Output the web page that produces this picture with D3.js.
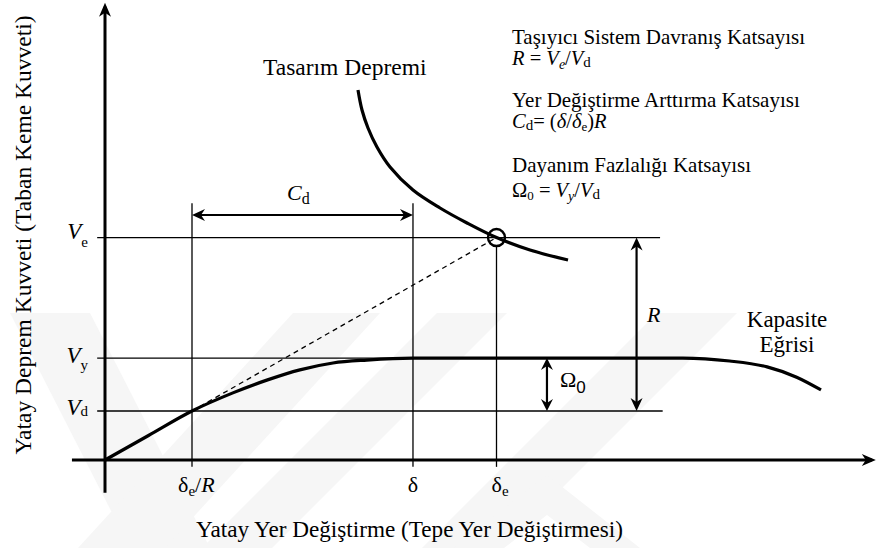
<!DOCTYPE html>
<html><head><meta charset="utf-8">
<script src="https://cdn.jsdelivr.net/npm/d3@7"></script>
<style>
html,body{margin:0;padding:0;background:#fff;}
svg{display:block;}
text{font-family:"Liberation Serif","Times New Roman",serif;fill:#000;}
</style>
</head><body>
<svg id="chart" width="877" height="548"></svg>
<script>
// Force levels, normalised to the design force V_d
const forceNames = ["Ve", "Vy", "Vd"];
const forceLevels = [4.54, 2.08, 1.0];
// Displacement marks, normalised to δe/R
const dispNames = ["δe/R", "δ", "δe"];
const dispLevels = [1.0, 3.54, 4.5];
// Capacity (pushover) curve
const capX = [0, 0.5, 1.0, 1.47, 1.86, 2.24, 2.62, 3.01, 3.54, 6.64, 7.18, 7.61, 7.95, 8.23];
const capY = [0, 0.5, 1.0, 1.37, 1.63, 1.84, 1.98, 2.04, 2.08, 2.08, 2.02, 1.90, 1.69, 1.43];
// Design earthquake demand curve
const demX = [2.908, 2.954, 3.023, 3.126, 3.276, 3.54, 3.851, 4.161, 4.5, 4.885, 5.322];
const demY = [7.551, 7.143, 6.776, 6.388, 5.980, 5.51, 5.143, 4.837, 4.54, 4.286, 4.082];

const svg = d3.select("#chart");
const x = d3.scaleLinear().domain([0, 1]).range([105, 192]);
const y = d3.scaleLinear().domain([0, 1]).range([460, 411]);

const [Ve, Vy, Vd] = forceLevels;
const [dR, dY, dE] = dispLevels;

// faint background watermark
const wm = svg.append("g").attr("fill", "#f6f6f6");
[
  [[10,313],[90,313],[210,548],[130,548]],
  [[293,313],[380,313],[165,548],[78,548]],
  [[437,313],[507,313],[272,548],[202,548]],
  [[657,313],[737,313],[502,548],[422,548]],
  [[547,475],[640,548],[590,548],[547,515],[504,548],[454,548]]
].forEach(p => wm.append("path").attr("d", d3.line()(p) + "Z"));

// arrowhead drawn at (px,py) pointing along angle (radians)
function arrowHead(px, py, ang, len = 13, half = 6, notch = 4) {
  const pts = [[0,0],[-len,-half],[-len+notch,0],[-len,half]];
  const c = Math.cos(ang), s = Math.sin(ang);
  const tp = pts.map(([a,b]) => [px + a*c - b*s, py + a*s + b*c]);
  svg.append("path").attr("d", d3.line()(tp) + "Z").attr("fill", "#000");
}
function seg(x1, y1, x2, y2, w, dash) {
  const l = svg.append("line").attr("x1", x1).attr("y1", y1).attr("x2", x2).attr("y2", y2)
    .attr("stroke", "#000").attr("stroke-width", w);
  if (dash) l.attr("stroke-dasharray", dash);
  return l;
}
function rich(px, py, parts, size, anchor) {
  const t = svg.append("text").attr("x", px).attr("y", py).attr("font-size", size)
    .attr("text-anchor", anchor || "start");
  let shift = 0;
  parts.forEach(p => {
    const ts = t.append("tspan").text(p.t);
    const want = p.sub || 0;
    if (want !== shift) { ts.attr("dy", want - shift); shift = want; }
    if (p.it) ts.attr("font-style", "italic");
    if (p.fs) ts.attr("font-size", p.fs);
    if (p.ff) ts.attr("font-family", p.ff);
  });
  return t;
}

// thin reference lines
const thin = 1.3;
seg(x(-0.09), y(Ve), x(6.38), y(Ve), thin);
seg(x(-0.09), y(Vy), x(dY), y(Vy), thin);
seg(x(-0.09), y(Vd), x(6.41), y(Vd), thin);
seg(x(dR), y(5.24), x(dR), y(-0.14), thin);
seg(x(dY), y(5.24), x(dY), y(-0.14), thin);
seg(x(dE), y(Ve) + 8, x(dE), y(-0.14), thin);

// secant from design point to elastic demand point
seg(x(dR), y(Vd), x(dE), y(Ve), 1.3, "5,4");

// axes
seg(x(0), y(-0.67), x(0), y(9.33) + 4, 3);
arrowHead(x(0), y(9.33), -Math.PI / 2, 14, 6, 4);
seg(x(-0.38), y(0), x(8.86) - 4, y(0), 3);
arrowHead(x(8.86), y(0), 0, 14, 6, 4);

// curves
const capLine = d3.line().x(d => x(d[0])).y(d => y(d[1])).curve(d3.curveMonotoneX);
const demLine = d3.line().x(d => x(d[0])).y(d => y(d[1])).curve(d3.curveCatmullRom.alpha(0.5));
svg.append("path").attr("d", capLine(capX.map((v, i) => [v, capY[i]])))
  .attr("fill", "none").attr("stroke", "#000").attr("stroke-width", 3.2);
svg.append("path").attr("d", demLine(demX.map((v, i) => [v, demY[i]])))
  .attr("fill", "none").attr("stroke", "#000").attr("stroke-width", 3.2);
svg.append("circle").attr("cx", x(dE)).attr("cy", y(Ve)).attr("r", 8.5)
  .attr("fill", "none").attr("stroke", "#000").attr("stroke-width", 2.4);

// dimension arrows
const cdY = y(5.0);
seg(x(dR) + 4, cdY, x(dY) - 4, cdY, 2.2);
arrowHead(x(dR), cdY, Math.PI, 13, 6, 4);
arrowHead(x(dY), cdY, 0, 13, 6, 4);

const rX = x(6.11);
seg(rX, y(Ve) + 4, rX, y(Vd) - 4, 2.2);
arrowHead(rX, y(Ve), -Math.PI / 2, 13, 6, 4);
arrowHead(rX, y(Vd), Math.PI / 2, 13, 6, 4);

const oX = x(5.08);
seg(oX, y(Vy) + 4, oX, y(Vd) - 4, 2.2);
arrowHead(oX, y(Vy), -Math.PI / 2, 12, 6, 4);
arrowHead(oX, y(Vd), Math.PI / 2, 12, 6, 4);

// force labels on the vertical axis
const forceSub = [{t: "e", sub: 8}, {t: "y", sub: 7}, {t: "d", sub: 1}];
const forceDy = [1, 5, 4];
forceNames.forEach((n, i) => {
  rich(88, y(forceLevels[i]) + forceDy[i], [
    {t: "V", it: true},
    {t: forceSub[i].t, sub: forceSub[i].sub, fs: 15}
  ], 23, "end");
});

// displacement labels under the horizontal axis
rich(x(dR) - 14, 492, [{t: "δ"}, {t: "e", sub: 4, fs: 15}, {t: "/", sub: 0}, {t: "R", it: true}], 22);
rich(x(dY), 492, [{t: "δ"}], 22, "middle");
rich(x(dE) - 5, 492, [{t: "δ"}, {t: "e", sub: 4, fs: 15}], 22);

// axis titles
svg.append("text").attr("x", 196).attr("y", 537).attr("font-size", 23.2)
  .text("Yatay Yer Değiştirme (Tepe Yer Değiştirmesi)");
svg.append("text").attr("transform", "translate(31,235) rotate(-90)")
  .attr("text-anchor", "middle").attr("font-size", 23.5)
  .text("Yatay Deprem Kuvveti (Taban Keme Kuvveti)");

// curve names
svg.append("text").attr("x", 263).attr("y", 75).attr("font-size", 23.5).text("Tasarım Depremi");
svg.append("text").attr("x", 787).attr("y", 327).attr("font-size", 23).attr("text-anchor", "middle").text("Kapasite");
svg.append("text").attr("x", 787).attr("y", 352).attr("font-size", 23).attr("text-anchor", "middle").text("Eğrisi");

// dimension labels
rich(287, 200, [{t: "C", it: true}, {t: "d", sub: 4, fs: 16}], 22);
rich(647, 322, [{t: "R", it: true}], 22);
rich(560, 387, [{t: "Ω"}, {t: "0", sub: 6, fs: 17, ff: "Liberation Sans, Arial, sans-serif"}], 22);

// coefficient definitions
const fx = 512, fs = 20.5;
svg.append("text").attr("x", fx).attr("y", 44).attr("font-size", 21).text("Taşıyıcı Sistem Davranış Katsayısı");
rich(fx, 65, [{t: "R", it: true}, {t: " = "}, {t: "V", it: true}, {t: "e", it: true, sub: 4, fs: 14},
  {t: "/", sub: 0}, {t: "V", it: true}, {t: "d", sub: 2, fs: 15}], fs);
svg.append("text").attr("x", fx).attr("y", 107).attr("font-size", 21).text("Yer Değiştirme Arttırma Katsayısı");
rich(fx, 128, [{t: "C", it: true}, {t: "d", sub: 2, fs: 15}, {t: "= (", sub: 0}, {t: "δ", it: true}, {t: "/"},
  {t: "δ", it: true}, {t: "e", sub: 3, fs: 13}, {t: ")", sub: 0}, {t: "R", it: true}], fs);
svg.append("text").attr("x", fx).attr("y", 172).attr("font-size", 21).text("Dayanım Fazlalığı Katsayısı");
rich(fx, 197, [{t: "Ω"}, {t: "0", sub: 3, fs: 13}, {t: " =  ", sub: 0}, {t: "V", it: true},
  {t: "y", it: true, sub: 4, fs: 14}, {t: "/", sub: 0}, {t: "V", it: true}, {t: "d", sub: 2, fs: 15}], fs);
</script>
</body></html>
